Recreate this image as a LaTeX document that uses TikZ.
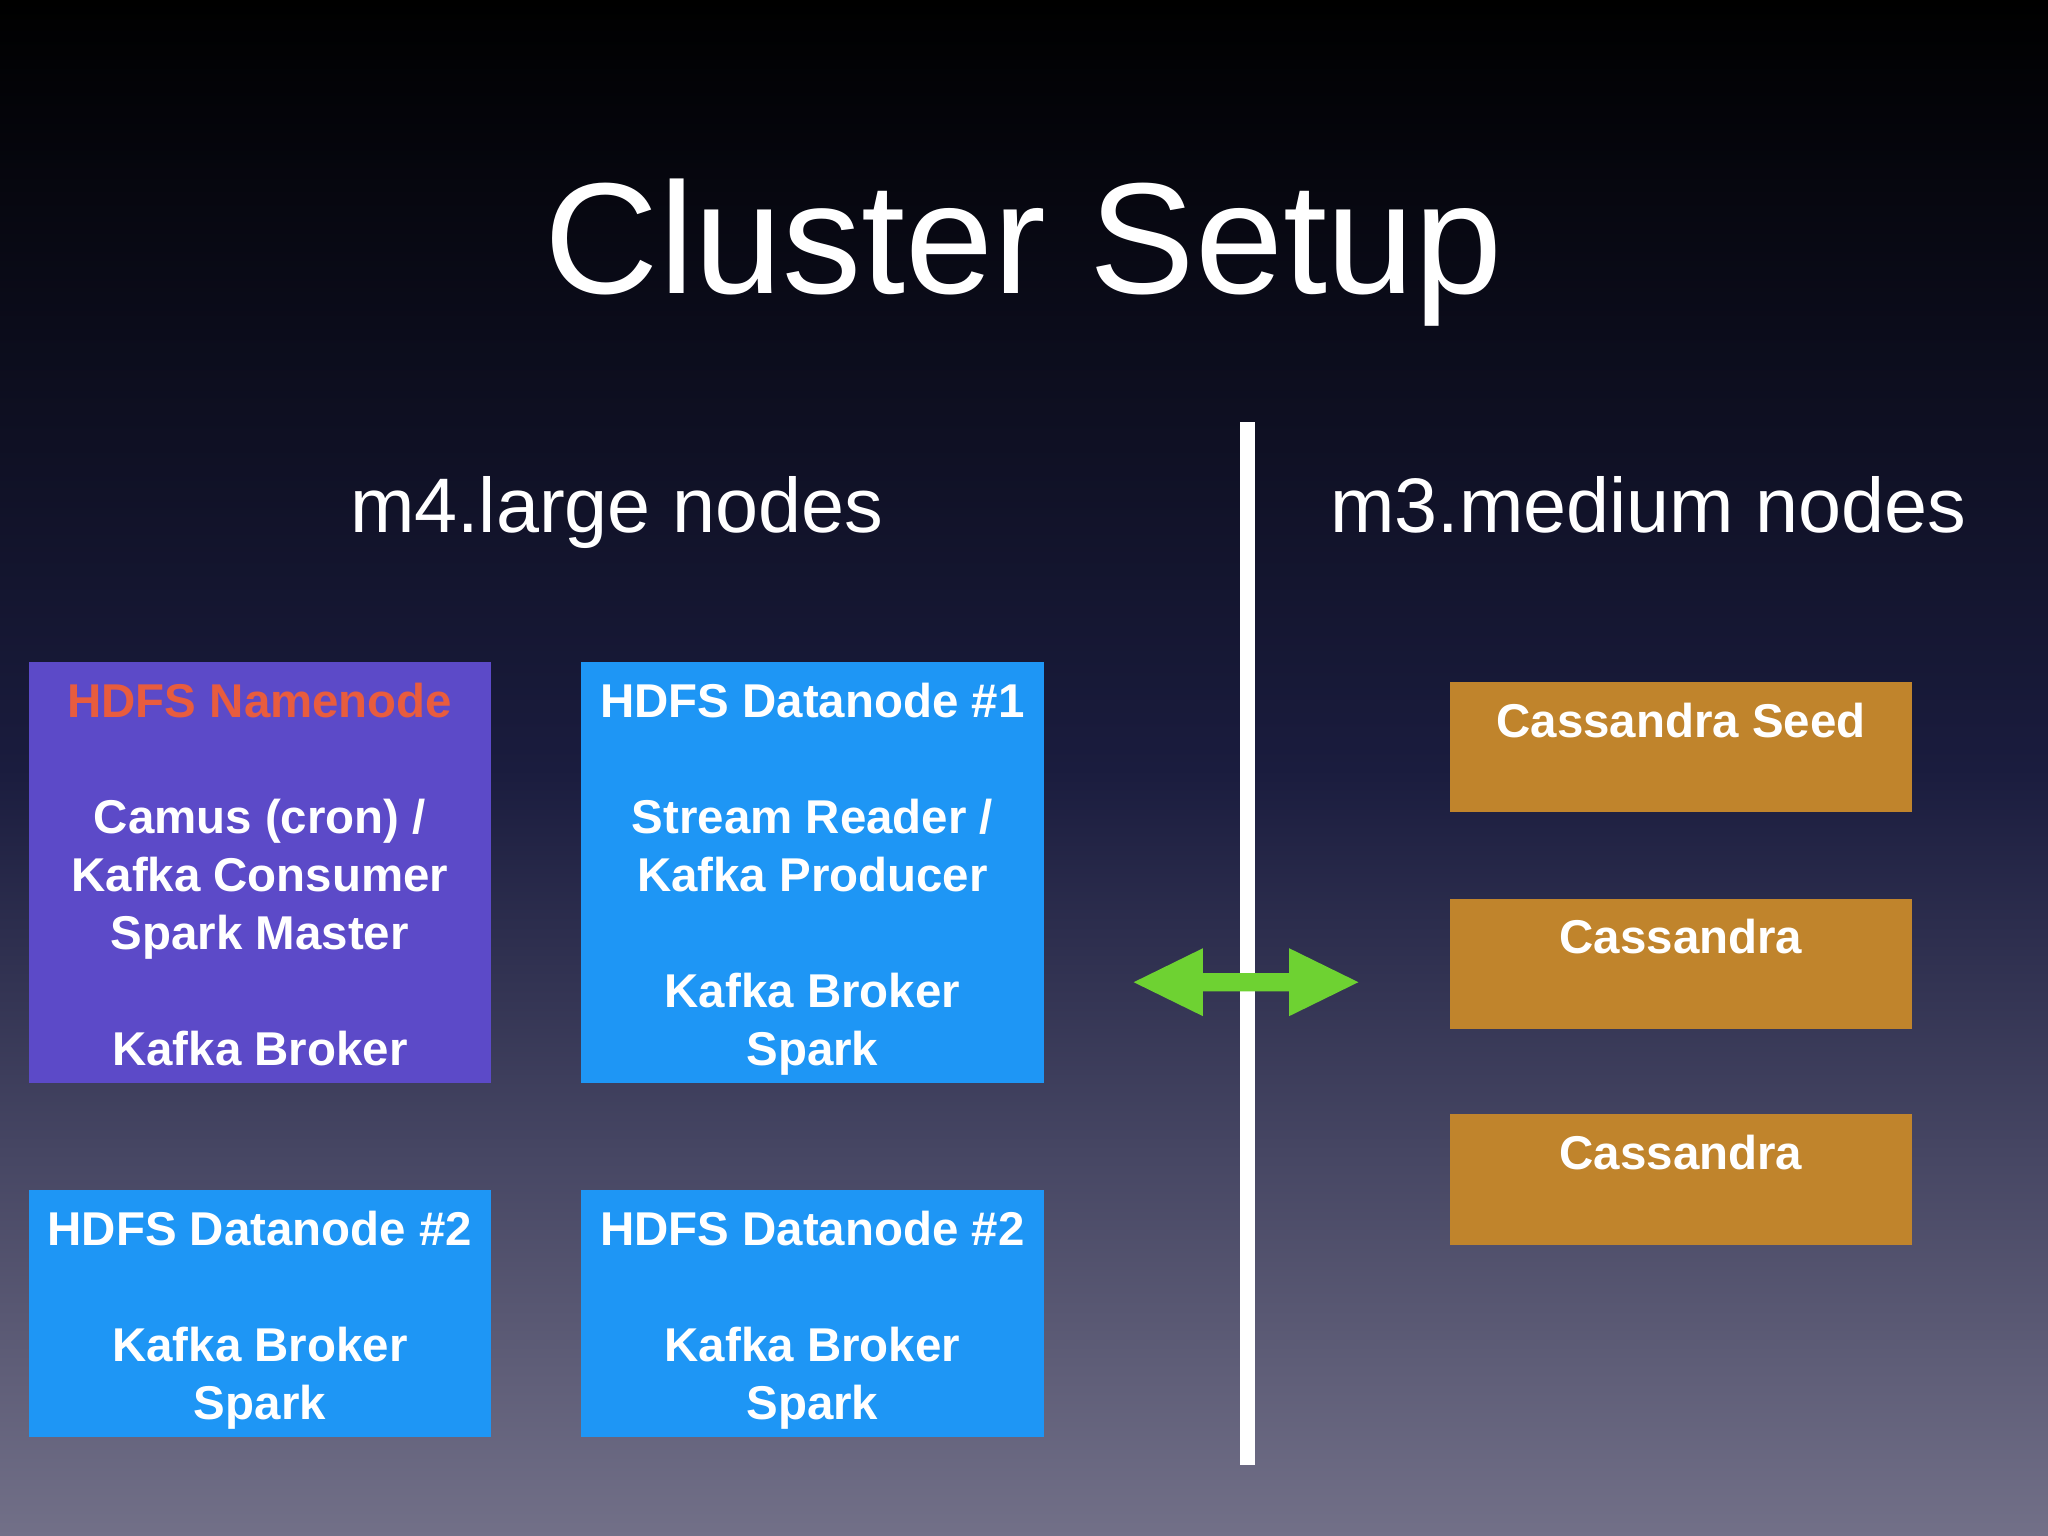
\documentclass[tikz,border=0pt]{standalone}
\usepackage{fontspec}
\setmainfont{Liberation Sans}
\definecolor{nameBox}{RGB}{92,74,200}
\definecolor{dataBox}{RGB}{30,150,245}
\definecolor{cassBox}{RGB}{192,132,44}
\definecolor{nameText}{RGB}{232,92,62}
\definecolor{arrowGreen}{RGB}{110,210,50}
\definecolor{bgBottom}{RGB}{114,112,136}
\definecolor{bgMid}{RGB}{26,28,62}
\begin{document}
\begin{tikzpicture}[x=0.013061cm,y=-0.013061cm,
  box/.style={draw=none,fill=#1,minimum width=354*0.013061cm,inner sep=0pt},
  boxtext/.style={anchor=north,text=white,align=center,inner sep=0pt,
    font=\fontsize{13.5pt}{16.5pt}\selectfont\bfseries},
  heading/.style={anchor=base,text=white,font=\fontsize{22pt}{26pt}\selectfont}]
  % background
  \shade[top color=black,bottom color=bgBottom,middle color=bgMid] (0,0) rectangle (1568,1176);
  \useasboundingbox (0,0) rectangle (1568,1176);

  \node[anchor=base,text=white,font=\fontsize{45pt}{54pt}\selectfont] (title) at (784,225) {Cluster Setup};
  \node[heading] (left) at (472,408) {m4.large nodes};
  \node[heading] (right) at (1262,408) {m3.medium nodes};

  % divider
  \fill[white] (949,323) rectangle (961,1122);

  % m4.large boxes
  \node[box=nameBox,minimum height=322*0.013061cm] (nn) at (199,668) {};
  \node[boxtext] (nnt) at ([yshift=-0.21cm]nn.north) {\textcolor{nameText}{HDFS Namenode}\\[16.5pt]
    Camus (cron) /\\Kafka Consumer\\Spark Master\\[16.5pt]Kafka Broker};
  \node[box=dataBox,minimum height=322*0.013061cm] (d1) at (622,668) {};
  \node[boxtext] (d1t) at ([yshift=-0.21cm]d1.north) {HDFS Datanode \#1\\[16.5pt]
    Stream Reader /\\Kafka Producer\\[16.5pt]Kafka Broker\\Spark};
  \node[box=dataBox,minimum height=189*0.013061cm] (d2) at (199,1005.5) {};
  \node[boxtext] (d2t) at ([yshift=-0.21cm]d2.north) {HDFS Datanode \#2\\[16.5pt]Kafka Broker\\Spark};
  \node[box=dataBox,minimum height=189*0.013061cm] (d3) at (622,1005.5) {};
  \node[boxtext] (d3t) at ([yshift=-0.21cm]d3.north) {HDFS Datanode \#2\\[16.5pt]Kafka Broker\\Spark};

  % m3.medium boxes
  \node[box=cassBox,minimum height=100*0.013061cm] (c1) at (1287,572) {};
  \node[boxtext] (c1t) at ([yshift=-0.21cm]c1.north) {Cassandra Seed};
  \node[box=cassBox,minimum height=100*0.013061cm] (c2) at (1287,738) {};
  \node[boxtext] (c2t) at ([yshift=-0.21cm]c2.north) {Cassandra};
  \node[box=cassBox,minimum height=100*0.013061cm] (c3) at (1287,903) {};
  \node[boxtext] (c3t) at ([yshift=-0.21cm]c3.north) {Cassandra};

  % double arrow across divider
  \fill[arrowGreen] (868,752) -- (921,726) -- (921,745) -- (987,745) -- (987,726)
    -- (1040,752) -- (987,778) -- (987,759) -- (921,759) -- (921,778) -- cycle;
\end{tikzpicture}
\end{document}
